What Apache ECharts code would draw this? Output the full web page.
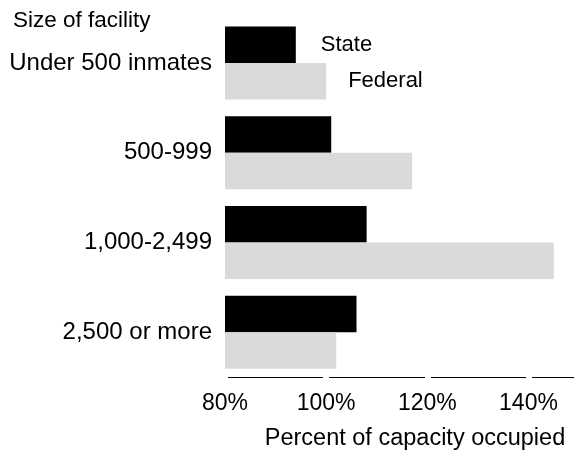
<!DOCTYPE html>
<html>
<head>
<meta charset="utf-8">
<script src="https://cdn.jsdelivr.net/npm/echarts@6/dist/echarts.min.js"></script>
<style>
  html, body { margin: 0; padding: 0; background: #fff; }
  #chart { width: 574px; height: 450px; }
</style>
</head>
<body>
<div id="chart"></div>
<script>
// facility size groups, top to bottom
const categories = ['Under 500 inmates', '500-999', '1,000-2,499', '2,500 or more'];
// percent of capacity occupied
const stateValues = [94, 101, 108, 106];
const federalValues = [100, 117, 145, 102];
const tickValues = [80, 100, 120, 140];

const FONT = '"Liberation Sans", Arial, sans-serif';

// only the first bar of each series carries its name as a label
function withNameLabel(values, dist) {
  return values.map((v, i) => i === 0 ? {
    value: v,
    label: { show: true, position: 'right', distance: dist, formatter: '{a}', color: '#000', fontSize: 22, fontFamily: FONT }
  } : v);
}

const chart = echarts.init(document.getElementById('chart'));

chart.setOption({
  animation: false,
  title: {
    text: 'Size of facility',
    left: 13,
    top: 9,
    padding: 0,
    textStyle: { fontSize: 22.5, fontWeight: 'normal', color: '#000', fontFamily: FONT }
  },
  grid: { left: 225, right: 0, top: 18, bottom: 73, containLabel: false, outerBoundsMode: 'none' },
  xAxis: {
    type: 'value',
    min: 80,
    max: 149,
    splitLine: { show: false },
    axisLine: { show: true, lineStyle: { color: '#000', width: 1 } },
    axisTick: {
      show: true,
      customValues: tickValues,
      length: 2,
      lineStyle: { color: '#fff', width: 6, cap: 'square' }
    },
    axisLabel: {
      customValues: tickValues,
      formatter: '{value}%',
      margin: 15,
      fontSize: 23,
      color: '#000',
      fontFamily: FONT
    },
    name: 'Percent of capacity occupied',
    nameLocation: 'middle',
    nameGap: 50,
    nameTextStyle: { fontSize: 23.5, color: '#000', fontFamily: FONT, padding: [0, 0, 0, 31] }
  },
  yAxis: {
    type: 'category',
    data: categories,
    inverse: true,
    axisLine: { show: false },
    axisTick: { show: false },
    axisLabel: { margin: 13, fontSize: 24, color: '#000', fontFamily: FONT }
  },
  series: [
    {
      name: 'State',
      type: 'bar',
      data: withNameLabel(stateValues, 25),
      barWidth: 36.5,
      barGap: '0%',
      itemStyle: { color: '#000' }
    },
    {
      name: 'Federal',
      type: 'bar',
      data: withNameLabel(federalValues, 22),
      barWidth: 36.5,
      barGap: '0%',
      itemStyle: { color: '#dadada' }
    }
  ]
});
</script>
</body>
</html>
